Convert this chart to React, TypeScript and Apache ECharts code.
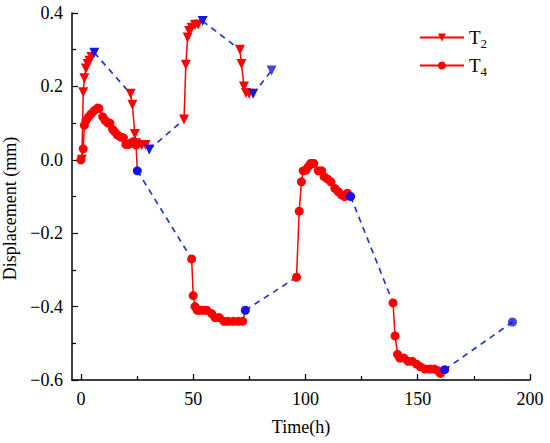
import React, { useEffect, useRef } from 'react';
import * as echarts from 'echarts';

// T2 measured segments: [time (h), displacement (mm)]
const T2_SEG1 = [[0.4, 0], [1, 0.184], [1.5, 0.222], [2.2, 0.249], [3, 0.261], [3.7, 0.27], [4.7, 0.28], [5.9, 0.292]];
const T2_SEG2 = [[22.1, 0.18], [22.9, 0.15], [24, 0.07], [24.6, 0.045], [27, 0.04], [28.8, 0.04], [30.4, 0.028]];
const T2_SEG3 = [[45.9, 0.11], [46.7, 0.259], [47.5, 0.333], [48.2, 0.351], [49.3, 0.36], [50.8, 0.367], [52.2, 0.369], [54.2, 0.378]];
const T2_SEG4 = [[70.8, 0.3], [71.5, 0.261], [72.6, 0.2], [73.5, 0.182], [74.9, 0.18], [76.7, 0.18]];
const T2_LAST = [84.9, 0.243];

// T4 measured segments
const T4_SEG1 = [[0, 0], [1, 0.03], [1.5, 0.094], [2.2, 0.107], [3.4, 0.117], [4.5, 0.125], [5.9, 0.134], [7.4, 0.141], [8, 0.14], [9.7, 0.117], [10.8, 0.107], [12, 0.1], [12.9, 0.1], [14.1, 0.083], [15.1, 0.076], [16.3, 0.067], [17.7, 0.062], [18.9, 0.06], [20, 0.042], [21.2, 0.042], [22.4, 0.047], [23.6, 0.05], [24.5, 0.04], [25.1, -0.03]];
const T4_SEG2 = [[49.3, -0.27], [50, -0.37], [50.8, -0.4], [51.8, -0.41], [53, -0.41], [54.5, -0.41], [56, -0.41], [58.2, -0.419], [59.7, -0.43], [61.6, -0.43], [63.7, -0.44], [65.6, -0.44], [67.8, -0.44], [70, -0.44], [72, -0.44], [73.2, -0.41]];
const T4_SEG3 = [[96, -0.32], [97.2, -0.14], [98.2, -0.06], [99, -0.03], [100.2, -0.028], [101.2, -0.019], [102.3, -0.01], [103, -0.01], [103.7, -0.01], [105.7, -0.03], [107.2, -0.03], [108.3, -0.046], [109.8, -0.052], [111.3, -0.06], [113.1, -0.078], [114.6, -0.087], [116.1, -0.096], [117.5, -0.1], [118.7, -0.091], [120.1, -0.1]];
const T4_SEG4 = [[139, -0.39], [139.9, -0.48], [141, -0.53], [142, -0.54], [143.8, -0.54], [145.7, -0.549], [147.6, -0.549], [149.5, -0.557], [151.2, -0.564], [153.2, -0.57], [155.4, -0.57], [157.3, -0.57], [159.1, -0.575], [160.1, -0.582], [162, -0.572]];
const T4_LAST = [192.2, -0.442];

const X_TICKS = [0, 50, 100, 150, 200];
const X_MINOR = [25, 75, 125, 175];

const RED = '#ff0000';
const BLUE = '#1414e6';
const DASH = '#2438cf';
const FONT = "'Liberation Serif', 'Times New Roman', serif";

function redSeries(name: string, seg: number[][], symbol: string, rotate: number, size: number) {
  return {
    type: 'line',
    name,
    data: seg.map((p, i) => (i === seg.length - 1 ? { value: p, itemStyle: { color: BLUE } } : p)),
    symbol,
    symbolRotate: rotate,
    symbolSize: size,
    showSymbol: true,
    lineStyle: { color: RED, width: 1.5 },
    itemStyle: { color: RED },
    z: 4,
  };
}

function dashSeries(segs: number[][][], last: number[]) {
  const data: any[] = [];
  for (let i = 0; i < segs.length; i++) {
    const end = segs[i][segs[i].length - 1];
    const next = i + 1 < segs.length ? segs[i + 1][0] : last;
    data.push(end, next, [end[0], '-']);
  }
  return {
    type: 'line',
    name: 'gap',
    data,
    symbol: 'none',
    connectNulls: false,
    lineStyle: { color: DASH, width: 1.7, type: [6, 5] },
    z: 2,
  };
}

export default function App() {
  const ref = useRef<HTMLDivElement>(null);
  useEffect(() => {
    const chart = echarts.init(ref.current!, undefined, { renderer: 'svg' });
    const t2Segs = [T2_SEG1, T2_SEG2, T2_SEG3, T2_SEG4];
    const t4Segs = [T4_SEG1, T4_SEG2, T4_SEG3, T4_SEG4];
    const series: any[] = [];
    series.push(dashSeries(t2Segs, T2_LAST));
    series.push(dashSeries(t4Segs, T4_LAST));
    t2Segs.forEach((s) => series.push(redSeries('T2', s, 'triangle', 180, 10)));
    t4Segs.forEach((s) => series.push(redSeries('T4', s, 'circle', 0, 9)));
    series.push({ type: 'scatter', name: 'end2', data: [T2_LAST], symbol: 'triangle', symbolRotate: 180, symbolSize: 10, itemStyle: { color: BLUE }, z: 5 });
    series.push({ type: 'scatter', name: 'end4', data: [T4_LAST], symbol: 'circle', symbolSize: 9, itemStyle: { color: BLUE }, z: 5 });

    const axisLine = { show: true, onZero: false, lineStyle: { color: '#000', width: 1.5 } };
    chart.setOption({
      animation: false,
      backgroundColor: '#fff',
      grid: { left: 72, right: 20, top: 13, bottom: 63, containLabel: false, outerBoundsMode: 'none' },
      legend: {
        data: ['T2', 'T4'],
        orient: 'vertical',
        left: 414,
        top: 23,
        itemWidth: 44,
        itemHeight: 10,
        itemGap: 6,
        formatter: (n: string) => `T{s|${n.slice(1)}}`,
        textStyle: {
          fontFamily: FONT,
          fontSize: 19,
          color: '#000',
          rich: { s: { fontFamily: FONT, fontSize: 13, color: '#000', padding: [12, 0, 0, 0] } },
        },
      },
      xAxis: [
        {
          type: 'value',
          min: -4,
          max: 200,
          name: 'Time(h)',
          nameLocation: 'middle',
          nameGap: 38,
          nameTextStyle: { fontFamily: FONT, fontSize: 18, color: '#000' },
          axisLine,
          splitLine: { show: false },
          axisTick: { show: true, inside: true, length: 6, customValues: X_TICKS, lineStyle: { color: '#000', width: 1.2 } },
          axisLabel: { customValues: X_TICKS, fontFamily: FONT, fontSize: 18, color: '#000', margin: 10 },
        },
        {
          type: 'value',
          min: -4,
          max: 200,
          position: 'bottom',
          axisLine: { show: false, onZero: false },
          splitLine: { show: false },
          axisTick: { show: true, inside: true, length: 4, customValues: X_MINOR, lineStyle: { color: '#000', width: 1.2 } },
          axisLabel: { show: false },
        },
      ],
      yAxis: {
        type: 'value',
        min: -0.6,
        max: 0.4,
        interval: 0.2,
        name: 'Displacement (mm)',
        nameLocation: 'middle',
        nameGap: 47,
        nameTextStyle: { fontFamily: FONT, fontSize: 18, color: '#000', padding: [0, 24, 0, 0] },
        axisLine,
        splitLine: { show: false },
        axisTick: { show: true, inside: true, length: 6, lineStyle: { color: '#000', width: 1.2 } },
        minorTick: { show: true, splitNumber: 2, length: 4, lineStyle: { color: '#000', width: 1.2 } },
        minorSplitLine: { show: false },
        axisLabel: {
          fontFamily: FONT,
          fontSize: 18,
          color: '#000',
          margin: 9,
          formatter: (v: number) => (v < -1e-9 ? '\u2212' + Math.abs(v).toFixed(1) : Math.abs(v).toFixed(1)),
        },
      },
      series,
    });
    return () => chart.dispose();
  }, []);
  return <div ref={ref} style={{ position: 'fixed', left: 0, top: 0, width: 550, height: 443 }} />;
}
